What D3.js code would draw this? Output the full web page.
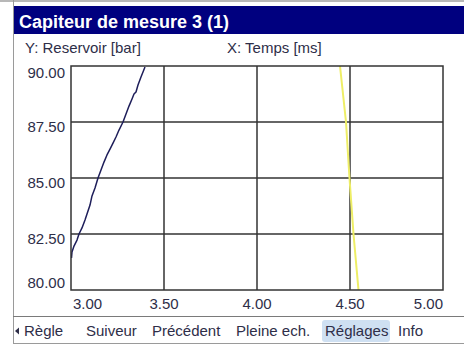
<!DOCTYPE html>
<html>
<head>
<meta charset="utf-8">
<script src="https://cdn.jsdelivr.net/npm/d3@7"></script>
<style>
  html, body { margin: 0; padding: 0; background: #ffffff; }
  svg { display: block; }
  text { font-family: "Liberation Sans", Arial, sans-serif; }
</style>
</head>
<body>
<svg id="chart" width="464" height="345"></svg>
<script>
// Sensor trace: pressure in the reservoir vs. time
const titleText = "Capiteur de mesure 3 (1)";
const yAxisTitle = "Y: Reservoir [bar]";
const xAxisTitle = "X: Temps [ms]";

const xTicks = [3.0, 3.5, 4.0, 4.5, 5.0];
const yTicks = [80, 82.5, 85, 87.5, 90];

// Measured curve (dark trace)
const traceX = [3.0027, 3.0054, 3.0161, 3.0323, 3.043, 3.0591, 3.0753, 3.086, 3.1022, 3.1129,
                3.129, 3.1452, 3.1613, 3.1774, 3.1935, 3.2097, 3.2258, 3.2419, 3.2581, 3.2796,
                3.2957, 3.3118, 3.328, 3.3387, 3.3495, 3.3602, 3.3763, 3.3871, 3.3978];
const traceY = [81.43, 81.70, 81.96, 82.23, 82.50, 82.77, 83.13, 83.39, 83.79, 84.20,
                84.55, 85.00, 85.36, 85.71, 86.03, 86.29, 86.56, 86.83, 87.14, 87.50,
                87.86, 88.21, 88.53, 88.75, 88.84, 89.15, 89.51, 89.73, 89.96];

// Cursor line (yellow)
const cursorX = [4.4462, 4.4785, 4.4973, 4.5188, 4.5457];
const cursorY = [90, 87.5, 85, 82.5, 80];

const menuItems = ["Règle", "Suiveur", "Précédent", "Pleine ech.", "Réglages", "Info"];
const menuX = [24, 86, 152, 236, 325, 398];
const activeItem = "Réglages";

const svg = d3.select("#chart");
const W = 464, H = 345;
const plot = { left: 71, right: 443, top: 66, bottom: 290 };
const ink = "#2e2e48";

// Window frame
svg.append("rect").attr("x", 0).attr("y", 0).attr("width", W).attr("height", H).attr("fill", "#ffffff");
svg.append("line").attr("x1", 0).attr("x2", W).attr("y1", 1).attr("y2", 1)
  .attr("stroke", "#b8b8b8").attr("stroke-width", 2);
svg.append("line").attr("x1", 13.5).attr("x2", 13.5).attr("y1", 0).attr("y2", 344)
  .attr("stroke", "#9a9a9a").attr("stroke-width", 1);
svg.append("line").attr("x1", 13).attr("x2", W).attr("y1", 343.5).attr("y2", 343.5)
  .attr("stroke", "#9a9a9a").attr("stroke-width", 1);

// Title bar
svg.append("rect").attr("x", 14).attr("y", 6).attr("width", W - 14).attr("height", 28).attr("fill", "#00007f");
svg.append("text").attr("x", 19).attr("y", 28)
  .attr("fill", "#ffffff").attr("font-weight", "bold").attr("font-size", 18)
  .text(titleText);

// Axis titles
svg.append("text").attr("x", 25).attr("y", 53).attr("fill", ink).attr("font-size", 15).text(yAxisTitle);
svg.append("text").attr("x", 227).attr("y", 53).attr("fill", ink).attr("font-size", 15).text(xAxisTitle);

// Scales
const x = d3.scaleLinear().domain([3, 5]).range([plot.left, plot.right]);
const y = d3.scaleLinear().domain([80, 90]).range([plot.bottom, plot.top]);

// Grid
const gridColor = "#333333";
svg.append("g").selectAll("line").data(xTicks.slice(1, -1)).join("line")
  .attr("x1", d => x(d)).attr("x2", d => x(d))
  .attr("y1", plot.top).attr("y2", plot.bottom)
  .attr("stroke", gridColor).attr("stroke-width", 1.5);
svg.append("g").selectAll("line").data(yTicks.slice(1, -1)).join("line")
  .attr("x1", plot.left).attr("x2", plot.right)
  .attr("y1", d => y(d)).attr("y2", d => y(d))
  .attr("stroke", gridColor).attr("stroke-width", 1.5);

// Traces, clipped to the plot frame
svg.append("clipPath").attr("id", "plotClip").append("rect")
  .attr("x", plot.left).attr("y", plot.top)
  .attr("width", plot.right - plot.left).attr("height", plot.bottom - plot.top);

const line = d3.line().x(d => x(d[0])).y(d => y(d[1]));
const traces = svg.append("g").attr("clip-path", "url(#plotClip)");
traces.append("path").datum(d3.zip(cursorX, cursorY))
  .attr("d", line).attr("fill", "none").attr("stroke", "#eeee66").attr("stroke-width", 2);
traces.append("path").datum(d3.zip(traceX, traceY))
  .attr("d", line).attr("fill", "none").attr("stroke", "#1e1e5a").attr("stroke-width", 1.5)
  .attr("stroke-linejoin", "round");

// Frame
svg.append("rect").attr("x", plot.left).attr("y", plot.top)
  .attr("width", plot.right - plot.left).attr("height", plot.bottom - plot.top)
  .attr("fill", "none").attr("stroke", gridColor).attr("stroke-width", 1.5);

// Y tick labels (kept inside the frame's vertical extent)
svg.append("g").selectAll("text").data(yTicks).join("text")
  .attr("x", 65)
  .attr("y", d => Math.max(73, Math.min(283, y(d) + 5)))
  .attr("dy", "0.35em")
  .attr("text-anchor", "end").attr("fill", ink).attr("font-size", 15)
  .text(d => d3.format(".2f")(d));

// X tick labels (end labels aligned to the frame edges)
svg.append("g").selectAll("text").data(xTicks).join("text")
  .attr("x", (d, i) => i === 0 ? plot.left + 2 : i === xTicks.length - 1 ? plot.right : x(d))
  .attr("y", 304).attr("dy", "0.35em")
  .attr("text-anchor", (d, i) => i === 0 ? "start" : i === xTicks.length - 1 ? "end" : "middle")
  .attr("fill", ink).attr("font-size", 15)
  .text(d => d3.format(".2f")(d));

// Soft-key bar
svg.append("line").attr("x1", 13).attr("x2", W).attr("y1", 316.5).attr("y2", 316.5)
  .attr("stroke", "#7a7a7a").attr("stroke-width", 1);
svg.append("path").attr("d", "M15,331 L19,327.5 L19,334.5 Z").attr("fill", ink);

const menu = svg.append("g");
menuItems.forEach((label, i) => {
  if (label === activeItem) {
    menu.append("rect").attr("x", menuX[i] - 3).attr("y", 320).attr("width", 68).attr("height", 22)
      .attr("rx", 3).attr("fill", "#cfe0f2");
  }
  menu.append("text").attr("x", menuX[i]).attr("y", 331).attr("dy", "0.35em")
    .attr("fill", ink).attr("font-size", 15).text(label);
});
</script>
</body>
</html>
